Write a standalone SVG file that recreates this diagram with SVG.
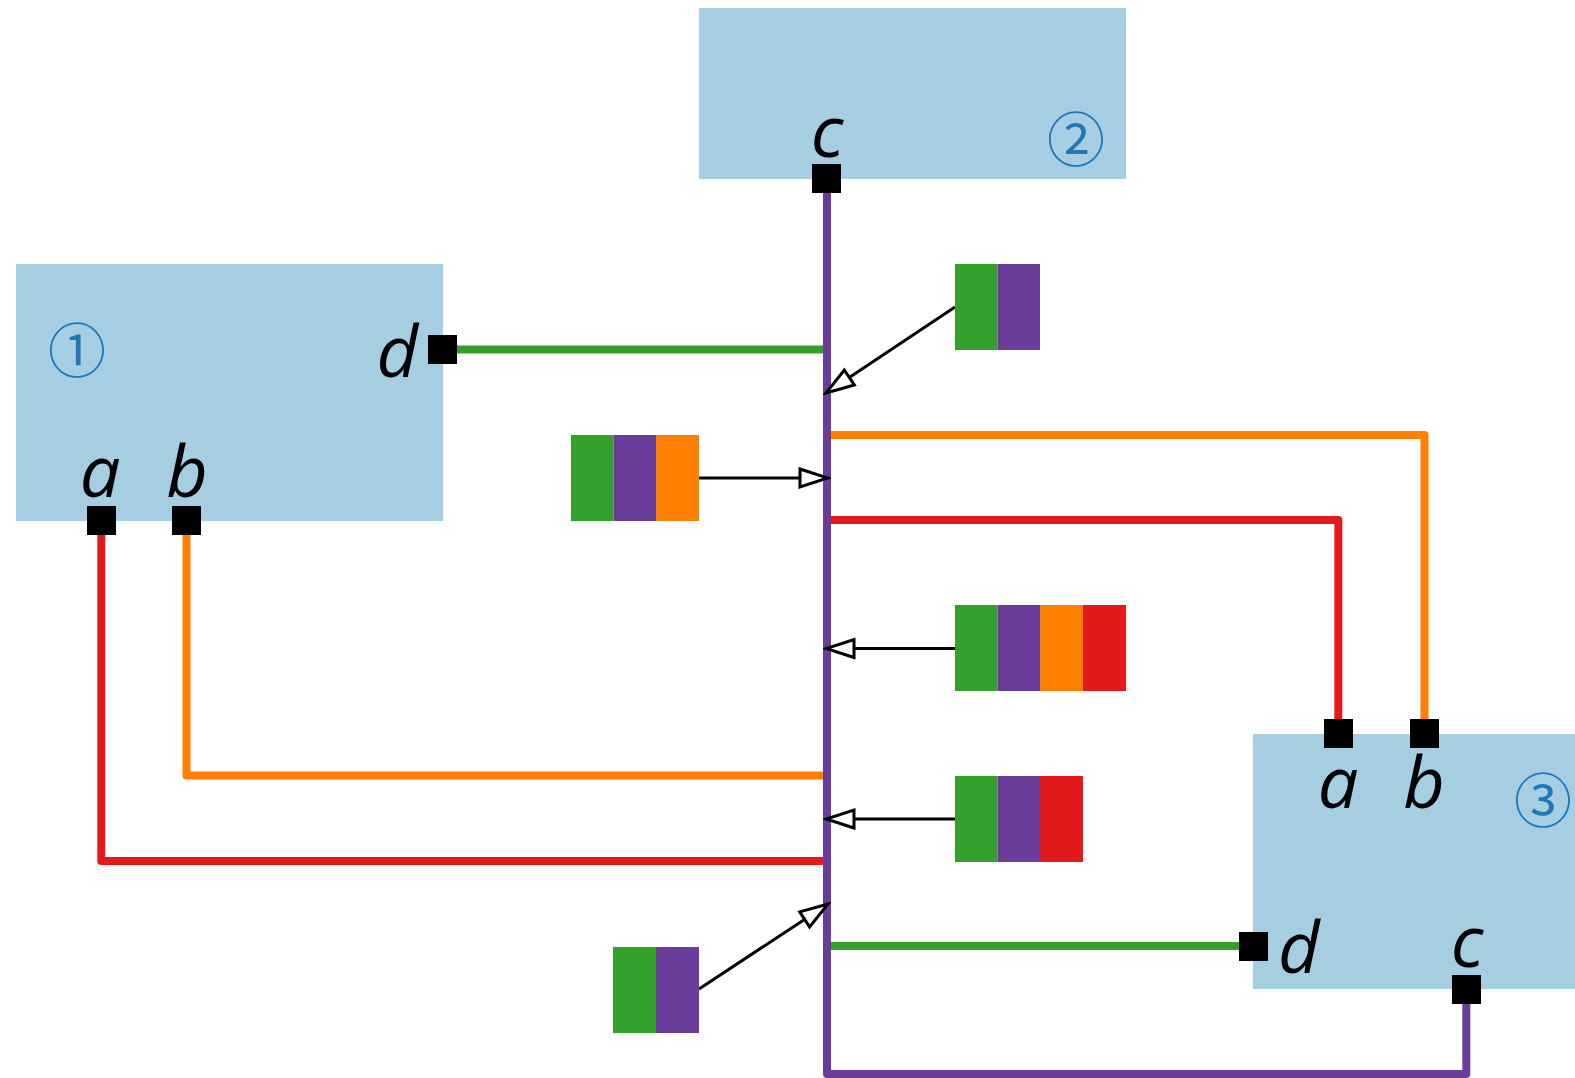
<svg xmlns="http://www.w3.org/2000/svg" width="1575" height="1078" viewBox="0 0 1575 1078">
<style>
.box{fill:#a6cee3}
.port{fill:#000}
.lbl{font-family:"Open Sans","Noto Sans","DejaVu Sans",sans-serif;font-style:italic;font-size:72px;fill:#000}
.num{font-family:"Noto Sans CJK JP","DejaVu Sans",sans-serif;font-size:58px;fill:#1f78b4}
.w{fill:none;stroke-width:8;stroke-linejoin:round;stroke-linecap:butt}
.g{stroke:#33a02c}.p{stroke:#6a3d9a}.o{stroke:#ff7f00}.r{stroke:#e31a1c}
.arr{fill:none;stroke:#000;stroke-width:3;marker-end:url(#tri)}
.cg{fill:#33a02c}.cp{fill:#6a3d9a}.co{fill:#ff7f00}.cr{fill:#e31a1c}
</style>
<defs>
<marker id="tri" markerUnits="userSpaceOnUse" viewBox="0 0 34 24" refX="31" refY="12" markerWidth="34" markerHeight="24" orient="auto">
<path d="M3,3 L31,12 L3,21 Z" fill="#fff" stroke="#000" stroke-width="3" stroke-linejoin="miter"/>
</marker>
</defs>
<rect width="1575" height="1078" fill="#fff"/>
<g id="node2">
<rect class="box" x="699" y="8" width="427" height="171"/>
<text class="lbl" x="827" y="157" text-anchor="middle">c</text>
<text class="num" x="1076" y="136" text-anchor="middle" dominant-baseline="central">②</text>
</g>
<g id="node1">
<rect class="box" x="16" y="264" width="427" height="257"/>
<text class="lbl" x="418" y="377" text-anchor="end">d</text>
<text class="lbl" x="100" y="497" text-anchor="middle">a</text>
<text class="lbl" x="187" y="497" text-anchor="middle">b</text>
<text class="num" x="77" y="347" text-anchor="middle" dominant-baseline="central">①</text>
</g>
<g id="node3">
<rect class="box" x="1253" y="734" width="427" height="255"/>
<text class="lbl" x="1338" y="808" text-anchor="middle">a</text>
<text class="lbl" x="1424" y="808" text-anchor="middle">b</text>
<text class="lbl" x="1278" y="973">d</text>
<text class="lbl" x="1467" y="967" text-anchor="middle">c</text>
<text class="num" x="1543" y="797" text-anchor="middle" dominant-baseline="central">③</text>
</g>
<g id="connectors">
<path class="w g" d="M456,349.5 L827,349.5"/>
<path class="w o" d="M827,435 L1424.5,435 L1424.5,719"/>
<path class="w r" d="M827,520 L1338.3,520 L1338.3,719"/>
<path class="w o" d="M186.5,534 L186.5,775.5 L827,775.5"/>
<path class="w r" d="M101.3,534 L101.3,861 L827,861"/>
<path class="w g" d="M827,946 L1239,946"/>
<path class="w p" d="M827,192 L827,1074 L1466.3,1074 L1466.3,1003"/>
<path class="arr" d="M955,307 L826,393"/>
<path class="arr" d="M699,478 L828,478"/>
<path class="arr" d="M955,648.5 L826,648.5"/>
<path class="arr" d="M955,819 L826,819"/>
<path class="arr" d="M699,989 L828,904"/>
</g>
<g id="ports">
<rect class="port" x="812" y="164" width="29" height="29"/>
<rect class="port" x="428" y="335" width="29" height="29"/>
<rect class="port" x="87" y="506" width="29" height="29"/>
<rect class="port" x="172" y="506" width="29" height="29"/>
<rect class="port" x="1324" y="719" width="29" height="29"/>
<rect class="port" x="1410" y="719" width="29" height="29"/>
<rect class="port" x="1239" y="932" width="29" height="29"/>
<rect class="port" x="1452" y="975" width="29" height="29"/>
</g>
<g id="tag-gp-top">
<rect class="cg" x="955" y="264" width="42.5" height="86"/>
<rect class="cp" x="997.5" y="264" width="42.5" height="86"/>
</g>
<g id="tag-gpo">
<rect class="cg" x="571" y="435" width="42.5" height="86"/>
<rect class="cp" x="613.5" y="435" width="42.5" height="86"/>
<rect class="co" x="656" y="435" width="43" height="86"/>
</g>
<g id="tag-gpor">
<rect class="cg" x="955" y="605" width="42.5" height="86"/>
<rect class="cp" x="997.5" y="605" width="42.5" height="86"/>
<rect class="co" x="1040" y="605" width="43" height="86"/>
<rect class="cr" x="1083" y="605" width="43" height="86"/>
</g>
<g id="tag-gpr">
<rect class="cg" x="955" y="776" width="42.5" height="86"/>
<rect class="cp" x="997.5" y="776" width="42.5" height="86"/>
<rect class="cr" x="1040" y="776" width="43" height="86"/>
</g>
<g id="tag-gp-bottom">
<rect class="cg" x="613" y="947" width="43" height="86"/>
<rect class="cp" x="656" y="947" width="43" height="86"/>
</g>
</svg>
